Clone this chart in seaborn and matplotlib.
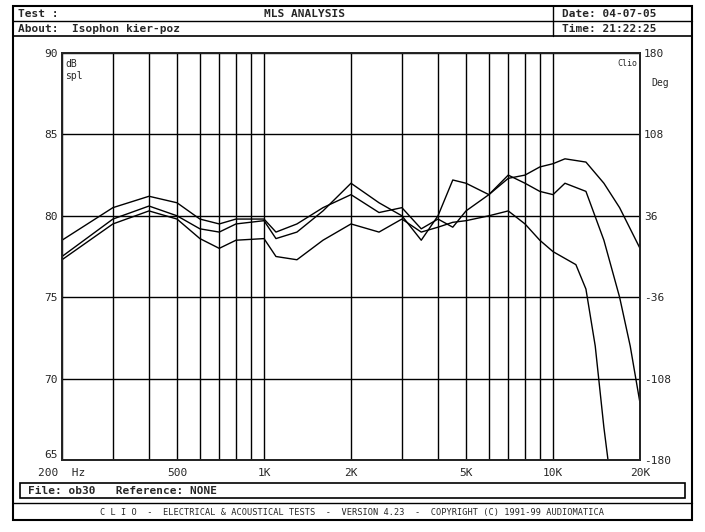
import numpy as np
import pandas as pd
import seaborn as sns
import matplotlib
matplotlib.use("Agg")
import matplotlib.pyplot as plt
from matplotlib.patches import Rectangle

freq1 = [200,300,400,500,600,700,800,1000,1100,1300,1600,2000,2500,3000,3500,4000,4500,5000,6000,7000,8000,9000,10000,11000,13000,15000,17000,20000]
spl1 = [78.5,80.5,81.2,80.8,79.8,79.5,79.8,79.8,79.0,79.5,80.5,81.3,80.2,80.5,79.2,79.8,79.3,80.3,81.3,82.3,82.5,83.0,83.2,83.5,83.3,82.0,80.5,78.0]
freq2 = [200,300,400,500,600,700,800,1000,1100,1300,1600,2000,2500,3000,3500,4000,4500,5000,6000,7000,8000,9000,10000,11000,13000,15000,17000,18500,20000]
spl2 = [77.5,79.8,80.6,80.0,79.2,79.0,79.5,79.7,78.6,79.0,80.3,82.0,80.8,80.0,78.5,80.0,82.2,82.0,81.3,82.5,82.0,81.5,81.3,82.0,81.5,78.5,75.0,72.0,68.5]
freq3 = [200,300,400,500,600,700,800,1000,1100,1300,1600,2000,2500,3000,3500,4000,4500,5000,6000,7000,8000,9000,10000,12000,13000,14000,15000,15500]
spl3 = [77.3,79.5,80.3,79.8,78.6,78.0,78.5,78.6,77.5,77.3,78.5,79.5,79.0,79.8,79.0,79.3,79.6,79.7,80.0,80.3,79.5,78.5,77.8,77.0,75.5,72.0,67.0,65.0]
xticks = [200,500,1000,2000,5000,10000,20000]
xlabels = ["200  Hz","500","1K","2K","5K","10K","20K"]
yticks = [65,70,75,80,85,90]
rticks = [-180,-108,-36,36,108,180]

sns.set_theme(style="white")
plt.rcParams['font.family'] = ['DejaVu Sans Mono']
fig = plt.figure(figsize=(7.05,5.32), dpi=100)
W,H = 705,532
def fx(px): return px/W
def fy(py): return 1-py/H

ax = fig.add_axes([fx(62), fy(460), fx(640)-fx(62), fy(53)-fy(460)])
for f,s in [(freq1,spl1),(freq2,spl2),(freq3,spl3)]:
    df = pd.DataFrame({"f":f,"s":s})
    sns.lineplot(data=df, x="f", y="s", ax=ax, color="black", lw=1.0)
ax.set_xscale("log")
ax.set_xlim(200,20000); ax.set_ylim(65,90)
grid = list(range(200,1000,100))+list(range(1000,10000,1000))+[10000,20000]
for g in grid:
    ax.axvline(g, color="black", lw=1.0, zorder=0)
for y in yticks:
    ax.axhline(y, color="black", lw=1.0, zorder=0)
ax.set_xticks(xticks); ax.set_xticklabels(xlabels, fontsize=8)
ax.xaxis.set_minor_locator(matplotlib.ticker.NullLocator())
ax.set_yticks(yticks); ax.set_yticklabels([str(v) for v in yticks], fontsize=8)
ax.set_xlabel(""); ax.set_ylabel("")
ax.tick_params(axis="x", length=0, pad=6)
ax.tick_params(axis="y", length=0, pad=3)
ax.get_yticklabels()[0].set_va("bottom")
for sp in ax.spines.values(): sp.set_color("black"); sp.set_linewidth(1.2)
ax2 = ax.twinx()
ax2.set_ylim(-180,180); ax2.set_yticks(rticks)
ax2.set_yticklabels([str(v) for v in rticks], fontsize=8)
ax2.tick_params(length=0, pad=3)
ax.text(0.005,0.985,"dB\nspl",transform=ax.transAxes,fontsize=7,va="top")
ax.text(0.995,0.985,"Clio",transform=ax.transAxes,fontsize=6,va="top",ha="right")
fig.text(fx(660),fy(86),"Deg",fontsize=7,ha="center")

def box(x0,y0,x1,y1,lw=1.2):
    fig.patches.append(Rectangle((fx(x0),fy(y1)),fx(x1)-fx(x0),fy(y0)-fy(y1),
                       transform=fig.transFigure,fill=False,ec="black",lw=lw))
box(13,6,692,520,1.5)
box(13,6,692,36)
fig.add_artist(plt.Line2D([fx(13),fx(692)],[fy(21),fy(21)],transform=fig.transFigure,color="black",lw=1))
fig.add_artist(plt.Line2D([fx(553),fx(553)],[fy(6),fy(36)],transform=fig.transFigure,color="black",lw=1))
fig.text(fx(18),fy(14),"Test :",fontsize=8,va="center",weight="bold")
fig.text(fx(305),fy(14),"MLS ANALYSIS",fontsize=8,va="center",ha="center",weight="bold")
fig.text(fx(562),fy(14),"Date: 04-07-05",fontsize=8,va="center",weight="bold")
fig.text(fx(18),fy(29),"About:  Isophon kier-poz",fontsize=8,va="center",weight="bold")
fig.text(fx(562),fy(29),"Time: 21:22:25",fontsize=8,va="center",weight="bold")
box(20,483,685,498)
fig.text(fx(28),fy(491),"File: ob30   Reference: NONE",fontsize=8,va="center",weight="bold")
fig.add_artist(plt.Line2D([fx(13),fx(692)],[fy(503),fy(503)],transform=fig.transFigure,color="black",lw=1))
fig.text(fx(352),fy(512),"C L I O  -  ELECTRICAL & ACOUSTICAL TESTS  -  VERSION 4.23  -  COPYRIGHT (C) 1991-99 AUDIOMATICA",
         fontsize=6.2,va="center",ha="center")
fig.savefig("out.png", dpi=100)
